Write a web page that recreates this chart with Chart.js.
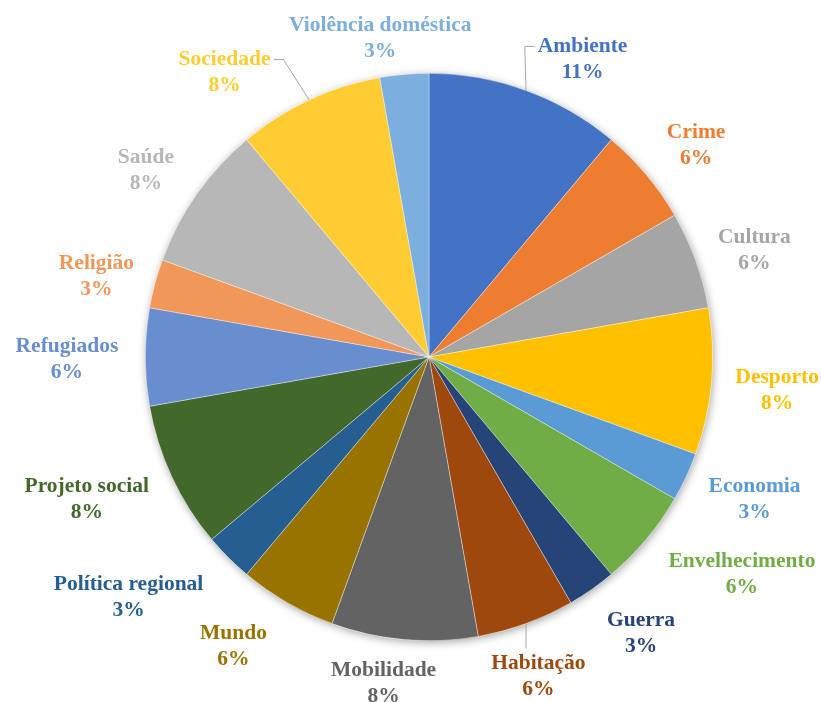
<!DOCTYPE html>
<html>
<head>
<meta charset="utf-8">
<script src="https://cdn.jsdelivr.net/npm/chart.js@4.4.1/dist/chart.umd.min.js"></script>
<style>
  html, body { margin: 0; padding: 0; background: #fff; }
  #wrap { width: 821px; height: 702px; }
</style>
</head>
<body>
<div id="wrap"><canvas id="myChart" width="821" height="702"></canvas></div>
<script>
const categories = ['Ambiente', 'Crime', 'Cultura', 'Desporto', 'Economia', 'Envelhecimento', 'Guerra',
    'Habitação', 'Mobilidade', 'Mundo', 'Política regional', 'Projeto social', 'Refugiados',
    'Religião', 'Saúde', 'Sociedade', 'Violência doméstica'];
const counts = [4, 2, 2, 3, 1, 2, 1, 2, 3, 2, 1, 3, 2, 1, 3, 3, 1];
const colors = ['#4472C4', '#ED7D31', '#A5A5A5', '#FFC000', '#5B9BD5', '#70AD47', '#264478',
    '#9E480E', '#636363', '#997300', '#255E91', '#43682B', '#698ED0',
    '#F1975A', '#B7B7B7', '#FFCD33', '#7CAFDD'];

const total = counts.reduce((a, b) => a + b, 0);

// soft shadow behind the whole pie
const pieShadow = {
    id: 'pieShadow',
    beforeDatasetsDraw(chart) {
        const arc = chart.getDatasetMeta(0).data[0];
        const ctx = chart.ctx;
        ctx.save();
        ctx.shadowColor = 'rgba(0,0,0,0.35)';
        ctx.shadowBlur = 9;
        ctx.shadowOffsetX = 1;
        ctx.shadowOffsetY = 2;
        ctx.fillStyle = '#fff';
        ctx.beginPath();
        ctx.arc(arc.x, arc.y, arc.outerRadius, 0, Math.PI * 2);
        ctx.fill();
        ctx.restore();
    }
};

// labels outside the slices, Excel style
const outsideLabels = {
    id: 'outsideLabels',
    afterDatasetsDraw(chart, args, opts) {
        const ctx = chart.ctx;
        const meta = chart.getDatasetMeta(0);
        ctx.save();
        ctx.font = opts.font;
        ctx.textAlign = 'center';
        ctx.textBaseline = 'middle';
        meta.data.forEach((arc, i) => {
            const mid = (arc.startAngle + arc.endAngle) / 2;
            const cos = Math.cos(mid), sin = Math.sin(mid);
            const name = categories[i];
            const pct = Math.round(counts[i] / total * 100) + '%';
            const w = Math.max(ctx.measureText(name).width, ctx.measureText(pct).width);
            const h = opts.lineGap * 2;
            const R = arc.outerRadius + opts.gap;
            let cx = arc.x + R * cos + cos * w / 2;
            let cy = arc.y + R * sin + sin * h / 2 + opts.dy;
            const n = opts.nudges[i];
            if (n) { cx += n[0]; cy += n[1]; }

            if (opts.leaders.includes(i)) {
                const px = arc.x + arc.outerRadius * cos;
                const py = arc.y + arc.outerRadius * sin;
                let ex, ey;
                const left = cx - w / 2 - 3, right = cx + w / 2 + 3;
                ctx.strokeStyle = '#A6A6A6';
                ctx.lineWidth = 1;
                ctx.beginPath();
                ctx.moveTo(px, py);
                if (px > right || px < left) {
                    ex = px > right ? right : left;
                    ey = cy - opts.lineGap / 2;
                    const tick = px > right ? 10 : -10;
                    ctx.lineTo(ex + tick, ey);
                    ctx.lineTo(ex, ey);
                } else {
                    ex = px;
                    ey = py < cy ? cy - h / 2 - 2 : cy + h / 2 + 2;
                    ctx.lineTo(ex, ey);
                }
                ctx.stroke();
            }

            ctx.fillStyle = colors[i];
            ctx.fillText(name, cx, cy - opts.lineGap / 2);
            ctx.fillText(pct, cx, cy + opts.lineGap / 2);
        });
        ctx.restore();
    }
};

const ctx = document.getElementById('myChart').getContext('2d');
new Chart(ctx, {
    type: 'pie',
    data: {
        labels: categories,
        datasets: [{
            data: counts,
            backgroundColor: colors,
            borderColor: 'rgba(255,255,255,0.6)',
            borderWidth: 0.6
        }]
    },
    options: {
        responsive: false,
        animation: false,
        layout: {
            padding: { top: 73, bottom: 61, left: 145, right: 108 }
        },
        plugins: {
            legend: { display: false },
            tooltip: { enabled: false },
            outsideLabels: {
                font: 'bold 21.5px "Liberation Serif", "Times New Roman", serif',
                gap: 24,
                lineGap: 26,
                dy: 4,
                leaders: [0, 7, 15],
                nudges: {
                    0: [33, 12],
                    1: [9, -1],
                    2: [2, 4],
                    4: [5, -3],
                    5: [21, -1],
                    6: [16, -1],
                    7: [-12, 2],
                    8: [-14, -10],
                    9: [-25, -4],
                    10: [-30, 0],
                    11: [-7, -3],
                    12: [-3, -2],
                    13: [1, 2],
                    14: [-8, 1],
                    15: [-55, 14],
                    16: [-14, 10]
                }
            }
        }
    },
    plugins: [pieShadow, outsideLabels]
});
</script>
</body>
</html>
